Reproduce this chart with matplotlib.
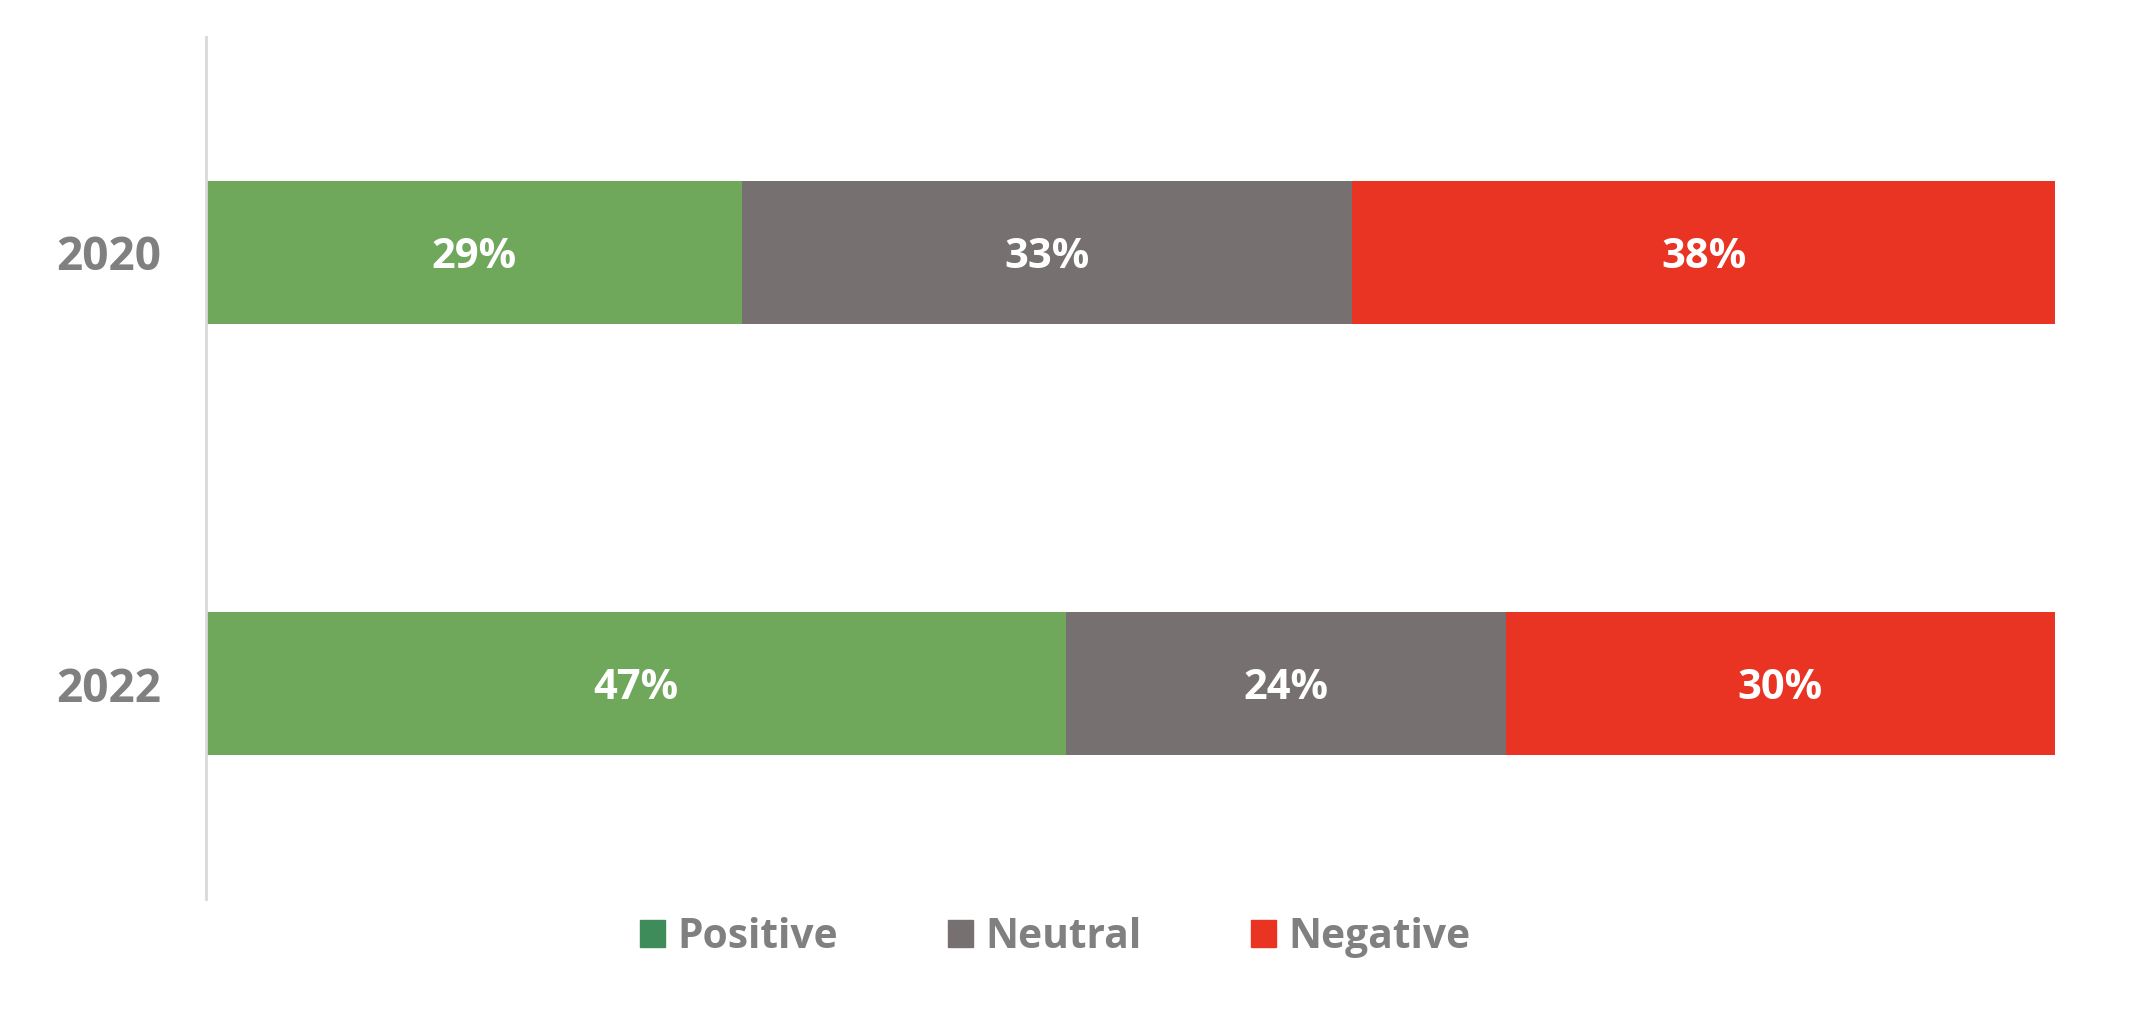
import numpy as np
import matplotlib.pyplot as plt
from matplotlib.patches import Patch

years = ["2020", "2022"]
series = ["Positive", "Neutral", "Negative"]
positive = [29, 47]
neutral = [33, 24]
negative = [38, 30]

bar_colors = ["#70A85B", "#767170", "#E93323"]
legend_colors = ["#3D8C5A", "#767170", "#E93323"]
grey = "#808080"

plt.rcParams['font.family'] = ['Open Sans', 'DejaVu Sans']
plt.rcParams['font.weight'] = 'bold'

fig = plt.figure(figsize=(21.36, 10.24), dpi=100)
ax = fig.add_axes([0.0964, 0.122, 0.8656, 0.842])

vals = np.array([positive, neutral, negative], dtype=float)
totals = vals.sum(axis=0)
shares = vals / totals * 100  # 100% stacked
y = np.arange(len(years))
left = np.zeros(len(years))
for i in range(len(series)):
    ax.barh(y, shares[i], left=left, height=0.33, color=bar_colors[i])
    for j in range(len(years)):
        ax.text(left[j] + shares[i][j] / 2, y[j] + 0.012, f"{int(vals[i][j])}%",
                ha='center', va='center', color='white', fontsize=30,
                fontweight='bold')
    left += shares[i]

ax.set_xlim(0, 100)
ax.set_ylim(1.5, -0.5)
ax.set_yticks(y)
ax.set_yticklabels(years, fontsize=33, color=grey, fontweight='bold')
ax.tick_params(axis='y', length=0, pad=32)
ax.set_xticks([])
for s in ['top', 'right', 'bottom']:
    ax.spines[s].set_visible(False)
ax.spines['left'].set_color('#D9D9D9')
ax.spines['left'].set_linewidth(2)

handles = [Patch(color=c, label=s) for c, s in zip(legend_colors, series)]
leg = fig.legend(handles=handles, loc='center', bbox_to_anchor=(0.494, 0.0846),
                 ncol=3, frameon=False, fontsize=29.3, handlelength=0.62,
                 handleheight=0.62, handletextpad=0.3, columnspacing=2.7)
for t in leg.get_texts():
    t.set_color(grey)
    t.set_fontweight('bold')

fig.savefig("out.png", dpi=100, facecolor='white')
